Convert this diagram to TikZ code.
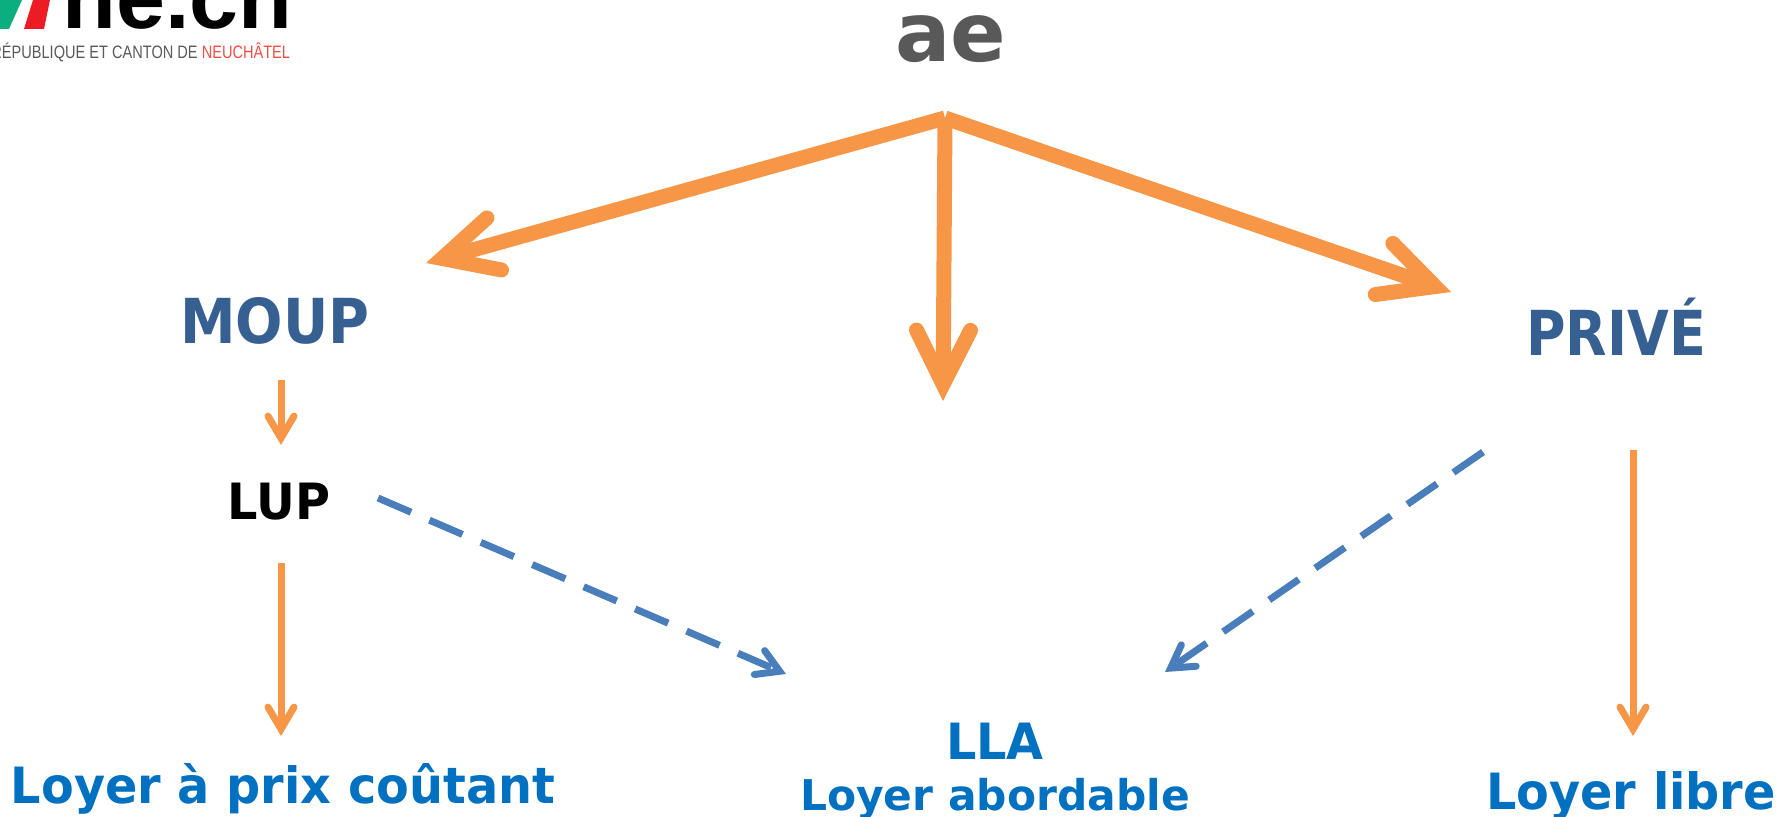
\documentclass[tikz,border=0pt]{standalone}
\usepackage{fontspec}
\setmainfont{DejaVu Sans}
\newfontfamily\logofont{Liberation Sans}
\newfontfamily\logosmall[FakeStretch=0.81]{Liberation Sans}
\newfontfamily\djA[FakeStretch=0.955]{DejaVu Sans}
\newfontfamily\djB[FakeStretch=0.9]{DejaVu Sans}
\newfontfamily\djC[FakeStretch=0.87]{DejaVu Sans}
\usetikzlibrary{arrows.meta}
\definecolor{orangeA}{HTML}{F79646}
\definecolor{blueA}{HTML}{4A7EBB}
\definecolor{titleA}{HTML}{376092}
\definecolor{textA}{HTML}{0070C0}
\definecolor{greyA}{HTML}{595959}
\definecolor{logoG}{HTML}{0AAE7F}
\definecolor{logoR}{HTML}{ED1C24}
\definecolor{logoT}{HTML}{F04E45}
\tikzset{
 lab/.style={inner sep=0pt,anchor=base},
 bigarrow/.style={draw=orangeA,line width=7.5pt,-{Straight Barb[line cap=round,line join=miter,length=27pt,width=27pt,line width=7.5pt]}},
 midarrow/.style={draw=orangeA,line width=3.5pt,-{Straight Barb[line cap=round,line join=miter,length=11pt,width=13pt,line width=3.5pt]}},
 dasharrow/.style={draw=blueA,line width=3.5pt,dash pattern=on 18pt off 10pt,-{Straight Barb[line cap=round,line join=miter,length=11pt,width=13pt,line width=3.5pt]}},
}
\begin{document}
\begin{tikzpicture}[x=0.5pt,y=-0.5pt]
\useasboundingbox (0,0) rectangle (1781,817);
\clip (0,0) rectangle (1781,817);
% logo
\fill[logoG] (0,0) -- (22,0) -- (9,29) -- (0,29) -- cycle;
\fill[logoR] (33,0) -- (50,0) -- (44,29) -- (24,29) -- cycle;
\node[anchor=base west,inner sep=0pt,font=\logofont\bfseries\fontsize{44}{44}\selectfont,text=black] (logo) at (62,29) {ne.ch};
\node[anchor=base west,inner sep=0pt,font=\logosmall\fontsize{9}{10}\selectfont,text=greyA] (logotext) at (-9,59) {RÉPUBLIQUE ET CANTON DE \textcolor{logoT}{NEUCHÂTEL}};
% labels
\node[lab,font=\bfseries\fontsize{41}{41}\selectfont,text=greyA] (ae) at (951,62) {ae};
\node[lab,font=\djB\bfseries\fontsize{31}{31}\selectfont,text=titleA] (moup) at (275,344) {MOUP};
\node[lab,font=\djC\bfseries\fontsize{31}{31}\selectfont,text=titleA] (prive) at (1616,356) {PRIVÉ};
\node[lab,font=\djA\bfseries\fontsize{25}{25}\selectfont,text=black] (lup) at (279,519) {LUP};
\node[lab,font=\djA\bfseries\fontsize{25}{25}\selectfont,text=textA] (lpc) at (283,803) {Loyer à prix coûtant};
\node[lab,font=\djA\bfseries\fontsize{25}{25}\selectfont,text=textA] (lla) at (995,759) {LLA};
\node[lab,font=\bfseries\fontsize{21.2}{21.2}\selectfont,text=textA] (labo) at (995,810) {Loyer abordable};
\node[lab,font=\djA\bfseries\fontsize{25}{25}\selectfont,text=textA] (llib) at (1631,809) {Loyer libre};
% connector ends
\coordinate (apex) at (945,118);
\coordinate (tipL) at (426,263);
\coordinate (tipM) at (943,401);
\coordinate (tipR) at (1451,292);
\coordinate (a1) at (281,380); \coordinate (a1e) at (281,445);
\coordinate (a2) at (281,563); \coordinate (a2e) at (281,736);
\coordinate (a3) at (1633,450); \coordinate (a3e) at (1633,736);
\coordinate (d1) at (378,498); \coordinate (d1e) at (786,674);
\coordinate (d2) at (1483,452); \coordinate (d2e) at (1165,672);
% connectors
\draw[bigarrow] (apex) -- (tipL);
\draw[bigarrow] (apex) -- (tipM);
\draw[bigarrow] (apex) -- (tipR);
\draw[midarrow] (a1) -- (a1e);
\draw[midarrow] (a2) -- (a2e);
\draw[midarrow] (a3) -- (a3e);
\draw[dasharrow] (d1) -- (d1e);
\draw[dasharrow] (d2) -- (d2e);
\end{tikzpicture}
\end{document}
